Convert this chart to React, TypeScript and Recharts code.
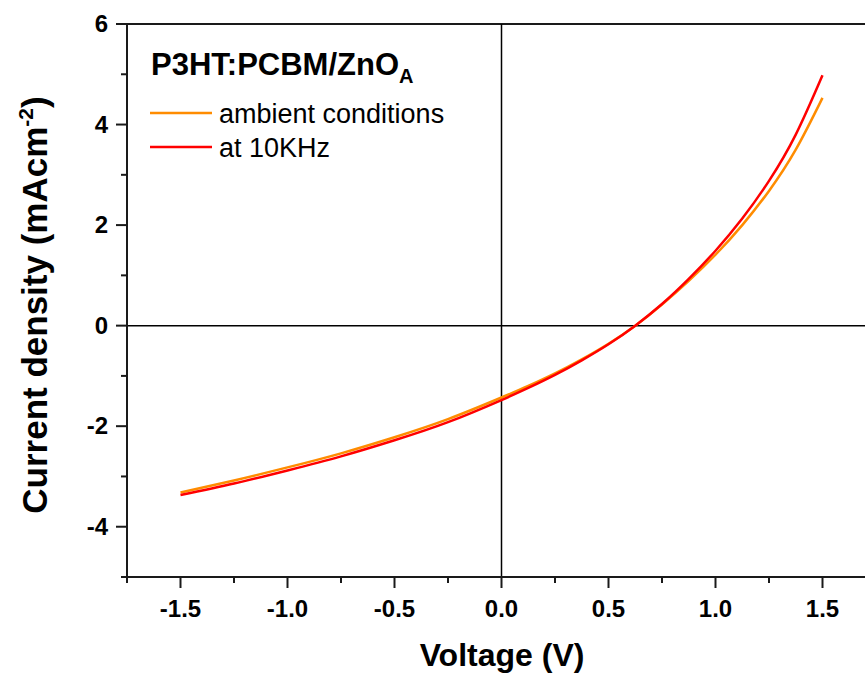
import React from "react";
import { LineChart, Line, XAxis, YAxis, ReferenceLine, Customized } from "recharts";

// Voltage (V) sample points
const voltage = [-1.5, -1.25, -1.0, -0.75, -0.5, -0.25, 0, 0.125, 0.25, 0.375, 0.5, 0.625, 0.75, 0.875, 1.0, 1.125, 1.25, 1.375, 1.5];
// Current density (mA/cm^2), ambient conditions
const ambient = [-3.32, -3.08, -2.82, -2.54, -2.22, -1.86, -1.43, -1.2, -0.95, -0.67, -0.36, 0.0, 0.42, 0.89, 1.41, 2.0, 2.68, 3.5, 4.53];
// Current density (mA/cm^2), at 10KHz
const khz10 = [-3.37, -3.14, -2.88, -2.6, -2.28, -1.92, -1.48, -1.24, -0.98, -0.69, -0.37, 0.0, 0.43, 0.93, 1.49, 2.13, 2.88, 3.8, 4.98];

const xTicks = [-1.75, -1.5, -1.25, -1.0, -0.75, -0.5, -0.25, 0, 0.25, 0.5, 0.75, 1.0, 1.25, 1.5, 1.75];
const yTicks = [-5, -4, -3, -2, -1, 0, 1, 2, 3, 4, 5, 6];

const data = voltage.map((v, i) => ({ v, ambient: ambient[i], khz10: khz10[i] }));

const FONT = "'Liberation Sans', Arial, sans-serif";
const AXIS = "#1a1a1a";

const YTick = (props: any) => {
  const { x, y, payload } = props;
  const major = payload.value % 2 === 0;
  return (
    <g>
      <line x1={x - (major ? 11 : 6)} x2={x} y1={y} y2={y} stroke={AXIS} strokeWidth={2} />
      {major && (
        <text x={x - 19} y={y + 8} textAnchor="end" fontFamily={FONT} fontWeight="bold" fontSize={24} fill="#000">
          {payload.value}
        </text>
      )}
    </g>
  );
};

const XTick = (props: any) => {
  const { x, y, payload } = props;
  const v = payload.value;
  const major = Math.abs(v * 2 - Math.round(v * 2)) < 1e-6;
  return (
    <g>
      <line x1={x} x2={x} y1={y} y2={y + (major ? 11 : 6)} stroke={AXIS} strokeWidth={2} />
      {major && (
        <text x={x} y={y + 40} textAnchor="middle" fontFamily={FONT} fontWeight="bold" fontSize={24} fill="#000">
          {v.toFixed(1)}
        </text>
      )}
    </g>
  );
};

const Annotations = () => (
  <g fontFamily={FONT}>
    <text x={151} y={75} fontSize={31} fontWeight="bold" fill="#000">
      P3HT:PCBM/ZnO
      <tspan fontSize={20} dy={8}>A</tspan>
    </text>
    <line x1={150} x2={212} y1={113} y2={113} stroke="#FF8C00" strokeWidth={2.5} />
    <text x={219} y={123} fontSize={27} fill="#000">ambient conditions</text>
    <line x1={150} x2={212} y1={147} y2={147} stroke="#FF0000" strokeWidth={2.5} />
    <text x={219} y={157} fontSize={27} fill="#000">at 10KHz</text>
    <text
      transform="translate(47,305) rotate(-90)"
      textAnchor="middle"
      fontSize={35}
      fontWeight="bold"
      fill="#000"
    >
      Current density (mAcm
      <tspan fontSize={21} dy={-14}>-2</tspan>
      <tspan dy={14}>)</tspan>
    </text>
    <text x={502} y={666} textAnchor="middle" fontSize={32} fontWeight="bold" fill="#000">
      Voltage (V)
    </text>
  </g>
);

export default function App() {
  return (
    <div style={{ position: "absolute", left: 0, top: 0, width: 865, height: 678, overflow: "hidden", background: "#fff" }}>
      <LineChart width={880} height={678} data={data} margin={{ top: 24, right: 4, left: 0, bottom: 0 }}>
        <XAxis
          dataKey="v"
          type="number"
          domain={[-1.75, 1.75]}
          ticks={xTicks}
          interval={0}
          tickSize={0}
          tickMargin={0}
          tickLine={false}
          tick={<XTick />}
          height={101}
          axisLine={{ stroke: AXIS, strokeWidth: 2 }}
        />
        <YAxis
          type="number"
          domain={[-5, 6]}
          ticks={yTicks}
          interval={0}
          tickSize={0}
          tickMargin={0}
          tickLine={false}
          tick={<YTick />}
          width={127}
          axisLine={{ stroke: AXIS, strokeWidth: 2 }}
        />
        <ReferenceLine y={6} stroke={AXIS} strokeWidth={2} />
        <ReferenceLine x={1.75} stroke={AXIS} strokeWidth={2} />
        <ReferenceLine y={0} stroke="#000" strokeWidth={1.5} />
        <ReferenceLine x={0} stroke="#000" strokeWidth={1.5} />
        <Line type="natural" dataKey="ambient" stroke="#FF8C00" strokeWidth={2.5} dot={false} isAnimationActive={false} />
        <Line type="natural" dataKey="khz10" stroke="#FF0000" strokeWidth={2.5} dot={false} isAnimationActive={false} />
        <Customized component={Annotations} />
      </LineChart>
    </div>
  );
}
